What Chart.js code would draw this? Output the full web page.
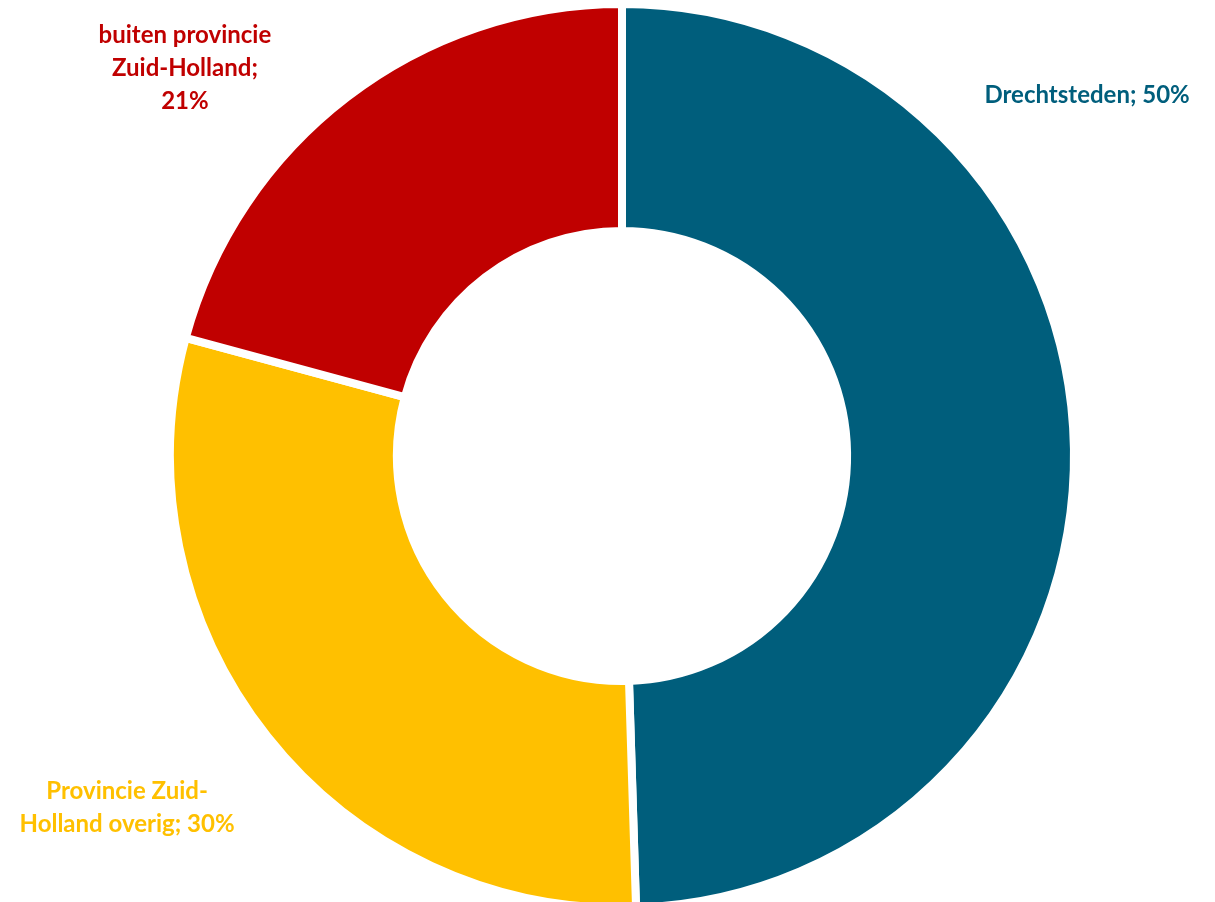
<!DOCTYPE html>
<html lang="nl">
<head>
<meta charset="UTF-8">
<title>Herkomst</title>
<script src="https://cdn.jsdelivr.net/npm/chart.js"></script>
<style>
  html, body { margin: 0; padding: 0; background: #fff; overflow: hidden; }
  #wrap { width: 1215px; height: 912px; }
</style>
</head>
<body>
<!-- canvas a bit taller than the window: the ring runs off the bottom edge in the original -->
<div id="wrap"><canvas id="donut" width="1215" height="912"></canvas></div>
<script>
// data
const categories = ['Drechtsteden', 'Provincie Zuid-Holland overig', 'buiten provincie Zuid-Holland'];
const shares = [50, 30, 21];
const colors = ['#005E7C', '#FFC000', '#C00000'];
// label text, broken over lines like the original
const labelLines = [
  ['Drechtsteden; 50%'],
  ['Provincie Zuid-', 'Holland overig; 30%'],
  ['buiten provincie', 'Zuid-Holland;', '21%']
];
// label anchor, in units of the outer radius from the centre
const labelPos = [[1.029, -0.799], [-1.095, 0.779], [-0.967, -0.858]];

const labelPlugin = {
  id: 'sliceLabels',
  afterDatasetsDraw(chart) {
    const ctx = chart.ctx;
    const arcs = chart.getDatasetMeta(0).data;
    ctx.save();
    ctx.font = 'bold 24px Lato, "Open Sans", sans-serif';
    ctx.textAlign = 'center';
    ctx.textBaseline = 'middle';
    arcs.forEach((arc, i) => {
      const r = arc.outerRadius;
      const x = arc.x + labelPos[i][0] * r;
      const y = arc.y + labelPos[i][1] * r;
      const lines = labelLines[i];
      const lh = 33;
      ctx.fillStyle = colors[i];
      lines.forEach((t, k) => {
        ctx.fillText(t, x, y + (k - (lines.length - 1) / 2) * lh);
      });
    });
    ctx.restore();
  }
};

new Chart(document.getElementById('donut'), {
  type: 'doughnut',
  data: {
    labels: categories,
    datasets: [{
      data: shares,
      backgroundColor: colors,
      borderColor: '#ffffff',
      borderWidth: 8,
      hoverOffset: 0
    }]
  },
  options: {
    responsive: false,
    animation: false,
    cutout: '49.8%',
    layout: { padding: { left: 29, right: 0, top: 0, bottom: 0 } },
    plugins: {
      legend: { display: false },
      tooltip: { enabled: false }
    }
  },
  plugins: [labelPlugin]
});
</script>
</body>
</html>
